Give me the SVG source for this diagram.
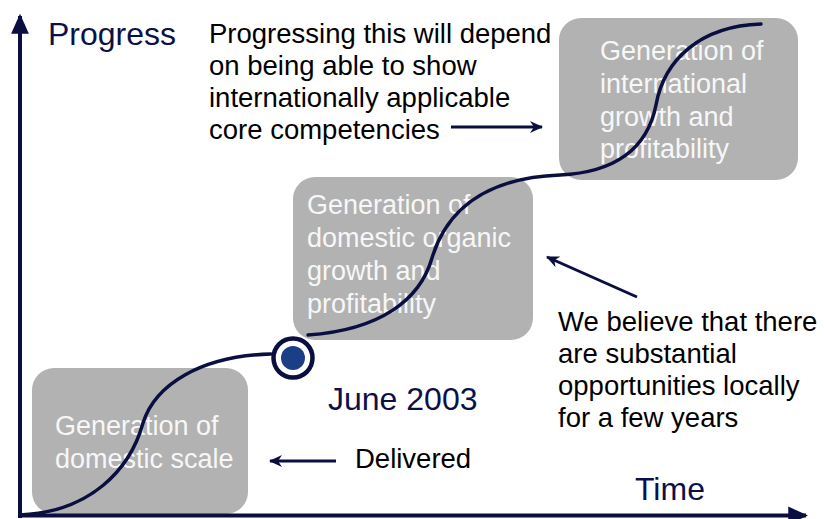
<svg xmlns="http://www.w3.org/2000/svg" width="824" height="519" viewBox="0 0 824 519">
<style>
.box{fill:#b2b2b2}
.bt{font-family:"Liberation Sans",Arial,sans-serif;font-size:27px;fill:#f7f7f7}
.nt{font-family:"Liberation Sans",Arial,sans-serif;font-size:32px;fill:#0c1048}
.kt{font-family:"Liberation Sans",Arial,sans-serif;font-size:27.5px;fill:#000}
.ax{stroke:#0a0f40;stroke-width:4;fill:none}
.ar{stroke:#0a0f40;stroke-width:3;fill:none}
.cv{stroke:#0a0f40;stroke-width:3.5;fill:none;stroke-linecap:round}
</style>
<defs>
<marker id="big" markerUnits="userSpaceOnUse" markerWidth="20" markerHeight="20" viewBox="0 0 18 18" refX="16" refY="9" orient="auto">
<path d="M0,1 L18,9 L0,17 z" fill="#0a0f40"/>
</marker>
<marker id="sm" markerUnits="userSpaceOnUse" markerWidth="14" markerHeight="14" viewBox="0 0 14 14" refX="12" refY="7" orient="auto">
<path d="M0,1 L13,7 L0,13 L4,7 z" fill="#0a0f40"/>
</marker>
</defs>
<g id="box-domestic-scale">
<rect class="box" x="32" y="368" width="216" height="146" rx="22"/>
<text class="bt" x="55" y="435">Generation of</text>
<text class="bt" x="55" y="468">domestic scale</text>
</g>
<g id="box-domestic-organic">
<rect class="box" x="293" y="177" width="240" height="163" rx="22"/>
<text class="bt" x="307" y="214">Generation of</text>
<text class="bt" x="307" y="247">domestic organic</text>
<text class="bt" x="307" y="280">growth and</text>
<text class="bt" x="307" y="313">profitability</text>
</g>
<g id="box-international">
<rect class="box" x="559" y="18" width="239" height="162" rx="22"/>
<text class="bt" x="600" y="60">Generation of</text>
<text class="bt" x="600" y="93">international</text>
<text class="bt" x="600" y="126">growth and</text>
<text class="bt" x="600" y="158">profitability</text>
</g>
<g id="axes">
<line class="ax" x1="20" y1="518" x2="20" y2="16" marker-end="url(#big)"/>
<line class="ax" x1="18" y1="515.5" x2="806" y2="515.5" marker-end="url(#big)"/>
<text class="nt" x="48" y="45">Progress</text>
<text class="nt" x="635" y="500">Time</text>
</g>
<g id="connectors">
<path class="cv" d="M20,515 C90,512 130,470 143,423 C155,385 200,356 271,354"/>
<path class="cv" d="M308,335 C380,330 420,300 432,258 C445,215 480,178 560,175 C620,172 648,145 656,105 C664,60 700,26 761,24"/>
<line class="ar" x1="451" y1="127" x2="542" y2="127" marker-end="url(#sm)"/>
<line class="ar" x1="637" y1="297" x2="547" y2="257" marker-end="url(#sm)"/>
<line class="ar" x1="336" y1="461" x2="270" y2="461" marker-end="url(#sm)"/>
</g>
<g id="milestone">
<circle cx="293" cy="358" r="19.5" fill="#fff" stroke="#0a0f40" stroke-width="4.5"/>
<circle cx="293" cy="358" r="12" fill="#1b3f86"/>
<text class="nt" x="328" y="410">June 2003</text>
</g>
<g id="notes">
<text class="kt" x="209" y="43">Progressing this will depend</text>
<text class="kt" x="209" y="75">on being able to show</text>
<text class="kt" x="209" y="107">internationally applicable</text>
<text class="kt" x="209" y="139">core competencies</text>
<text class="kt" x="558" y="331">We believe that there</text>
<text class="kt" x="558" y="363">are substantial</text>
<text class="kt" x="558" y="395">opportunities locally</text>
<text class="kt" x="558" y="427">for a few years</text>
<text class="kt" x="355" y="468">Delivered</text>
</g>
</svg>
